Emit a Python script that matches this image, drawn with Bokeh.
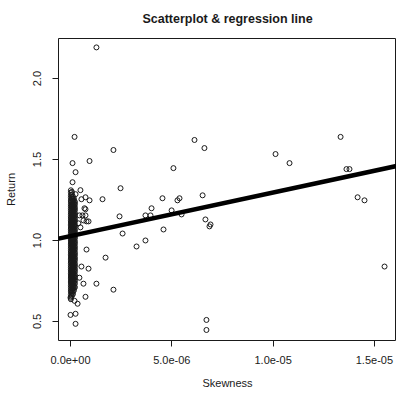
from bokeh.plotting import figure
from bokeh.models import Range1d, FixedTicker, Slope
from bokeh.embed import file_html
from bokeh.resources import INLINE

# ---- data ----
# scattered points (Skewness, Return)
outlier_x = [1.28e-6, 0.20e-6, 2.12e-6, 0.10e-6, 0.94e-6, 0.25e-6, 0.10e-6, 0.49e-6, 2.47e-6,
             6.12e-6, 6.61e-6, 5.08e-6, 10.12e-6, 10.81e-6, 13.33e-6, 13.62e-6, 13.77e-6,
             4.54e-6, 5.28e-6, 5.38e-6, 6.52e-6, 4.00e-6, 4.99e-6, 3.95e-6, 3.70e-6, 5.48e-6,
             4.59e-6, 6.66e-6, 6.86e-6, 6.91e-6, 14.17e-6, 14.51e-6, 15.50e-6, 6.71e-6, 6.71e-6,
             2.42e-6, 2.57e-6, 3.70e-6, 3.26e-6, 2.12e-6, 1.58e-6, 1.73e-6, 1.28e-6, 0.89e-6,
             0.79e-6, 0.74e-6, 0.64e-6, 0.54e-6, 0.44e-6, 0.69e-6, 0.74e-6, 0.44e-6, 0.59e-6,
             0.74e-6, 0.64e-6, 0.79e-6, 0.89e-6, 0.39e-6, 0.49e-6, 0.74e-6, 0.54e-6, 0.94e-6,
             0.25e-6, 0.00e-6, 0.20e-6, 0.35e-6, 0.00e-6, 0.25e-6, 0.25e-6]
outlier_y = [2.193, 1.640, 1.559, 1.478, 1.491, 1.422, 1.360, 1.311, 1.323,
             1.621, 1.571, 1.447, 1.534, 1.478, 1.640, 1.441, 1.441,
             1.261, 1.248, 1.261, 1.279, 1.199, 1.186, 1.155, 1.155, 1.161,
             1.068, 1.130, 1.087, 1.099, 1.267, 1.248, 0.839, 0.509, 0.447,
             1.149, 1.043, 1.000, 0.963, 0.696, 1.255, 0.894, 0.733, 0.826,
             0.944, 0.652, 0.733, 0.839, 0.770, 1.199, 1.193, 1.155, 1.155,
             1.155, 1.124, 1.118, 1.118, 1.106, 1.081, 1.267, 1.255, 1.248,
             1.286, 0.646, 0.627, 0.609, 0.540, 0.547, 0.485]

# dense band of points at Skewness close to zero, read as five columns
band_a_x = 0.02e-6
band_a_y = [1.31, 1.296, 1.279, 1.265, 1.249, 1.237, 1.221, 1.211, 1.197, 1.186, 1.171, 1.161,
            1.147, 1.138, 1.124, 1.114, 1.100, 1.091, 1.077, 1.067, 1.054, 1.044, 1.030, 1.021,
            1.007, 0.998, 0.984, 0.974, 0.961, 0.951, 0.937, 0.928, 0.914, 0.905, 0.891, 0.881,
            0.867, 0.858, 0.844, 0.834, 0.821, 0.811, 0.797, 0.787, 0.774, 0.763, 0.749, 0.738,
            0.723, 0.711, 0.695, 0.683, 0.666, 0.653, 0.637]
band_d_x = 0.07e-6
band_d_y = [1.30, 1.285, 1.268, 1.257, 1.24, 1.226, 1.213, 1.199, 1.184, 1.176, 1.163, 1.15,
            1.143, 1.128, 1.121, 1.104, 1.097, 1.083, 1.074, 1.06, 1.051, 1.036, 1.027, 1.012,
            1.004, 0.99, 0.979, 0.966, 0.957, 0.943, 0.933, 0.919, 0.91, 0.896, 0.888, 0.873,
            0.864, 0.85, 0.84, 0.827, 0.818, 0.803, 0.793, 0.78, 0.77, 0.756, 0.744, 0.728,
            0.717, 0.703, 0.689, 0.675, 0.658]
band_b_x = 0.12e-6
band_b_y = [1.272, 1.256, 1.242, 1.229, 1.215, 1.204, 1.190, 1.180, 1.165, 1.155, 1.141, 1.132,
            1.118, 1.108, 1.094, 1.085, 1.071, 1.062, 1.048, 1.038, 1.025, 1.015, 1.002, 0.992,
            0.978, 0.968, 0.955, 0.945, 0.932, 0.922, 0.908, 0.899, 0.885, 0.875, 0.861, 0.852,
            0.838, 0.829, 0.815, 0.805, 0.791, 0.781, 0.767, 0.756, 0.741, 0.731, 0.715, 0.701,
            0.684, 0.669]
band_e_x = 0.17e-6
band_e_y = [1.258, 1.246, 1.231, 1.219, 1.207, 1.195, 1.182, 1.168, 1.157, 1.145, 1.135, 1.122,
            1.111, 1.098, 1.088, 1.076, 1.065, 1.052, 1.041, 1.029, 1.018, 1.006, 0.995, 0.983,
            0.971, 0.96, 0.948, 0.937, 0.925, 0.913, 0.902, 0.89, 0.879, 0.866, 0.855, 0.843,
            0.832, 0.819, 0.808, 0.796, 0.784, 0.772, 0.76, 0.747, 0.735, 0.72, 0.706, 0.692]
band_c_x = 0.22e-6
band_c_y = [1.238, 1.223, 1.204, 1.189, 1.169, 1.153, 1.134, 1.119, 1.099, 1.084, 1.065, 1.049,
            1.030, 1.015, 0.995, 0.980, 0.961, 0.945, 0.926, 0.911, 0.892, 0.877, 0.857, 0.842,
            0.823, 0.807, 0.787, 0.771, 0.751, 0.734, 0.711]

# regression line
reg_intercept = 1.027
reg_slope = 26900.0

x_ticks = [0.0, 5e-06, 1e-05, 1.5e-05]
x_tick_labels = ["0.0e+00", "5.0e-06", "1.0e-05", "1.5e-05"]
y_ticks = [0.5, 1.0, 1.5, 2.0]
y_tick_labels = ["0.5", "1.0", "1.5", "2.0"]

# ---- plot ----
FONT = "Liberation Sans"
INK = "#1a1a1a"

p = figure(width=396, height=396,
           x_range=Range1d(-5.92e-7, 1.609e-5), y_range=Range1d(0.382, 2.248),
           output_backend="svg", toolbar_location=None,
           min_border_left=58, min_border_right=0, min_border_top=38, min_border_bottom=56,
           title="Scatterplot & regression line")

p.title.align = "center"
p.title.vertical_align = "top"
p.title.text_font = FONT
p.title.text_font_size = "12.5px"
p.title.text_font_style = "bold"
p.title.text_color = INK
p.title.standoff = 22

p.grid.visible = False
p.outline_line_color = INK
p.outline_line_width = 1
p.background_fill_color = "white"
p.border_fill_color = "white"

band_x = ([band_a_x] * len(band_a_y) + [band_d_x] * len(band_d_y) + [band_b_x] * len(band_b_y)
          + [band_e_x] * len(band_e_y) + [band_c_x] * len(band_c_y))
band_y = band_a_y + band_d_y + band_b_y + band_e_y + band_c_y
all_x = outlier_x + band_x
all_y = outlier_y + band_y
p.scatter(all_x, all_y, marker="circle", size=5, fill_color=None,
          line_color=INK, line_width=1)

p.add_layout(Slope(gradient=reg_slope, y_intercept=reg_intercept,
                   line_color="black", line_width=4.5))

for ax, ticks, labels in ((p.xaxis[0], x_ticks, x_tick_labels), (p.yaxis[0], y_ticks, y_tick_labels)):
    ax.ticker = FixedTicker(ticks=ticks)
    ax.major_label_overrides = {t: l for t, l in zip(ticks, labels)}
    ax.axis_line_color = None
    ax.major_tick_line_color = INK
    ax.major_tick_in = 0
    ax.major_tick_out = 6
    ax.minor_tick_line_color = None
    ax.major_label_text_font = FONT
    ax.major_label_text_font_size = "11px"
    ax.major_label_text_color = INK
    ax.axis_label_text_font = FONT
    ax.axis_label_text_font_size = "11px"
    ax.axis_label_text_font_style = "normal"
    ax.axis_label_text_color = INK

p.xaxis.axis_label = "Skewness"
p.xaxis.major_label_standoff = 9
p.xaxis.axis_label_standoff = 10
p.yaxis.axis_label = "Return"
p.yaxis.major_label_orientation = "vertical"
p.yaxis.major_label_standoff = 11
p.yaxis.axis_label_standoff = 14

open("out.html", "w").write(file_html(p, INLINE))
